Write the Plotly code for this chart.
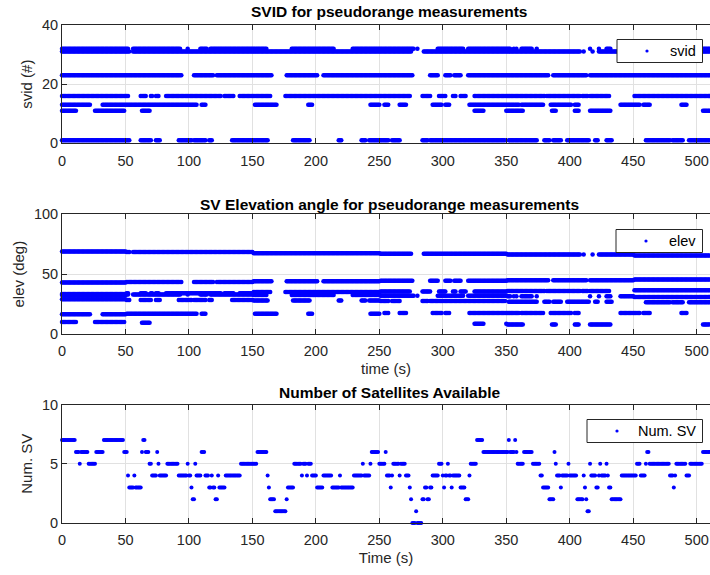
import numpy as np
import plotly.graph_objects as go

# ---------------- data ----------------
sv_ids = [1, 11, 13, 16, 23, 31, 32]

# visibility intervals (start s, end s) for each SV
sv1_intervals = [(0, 53), (62, 70), (74, 77), (92, 102), (104, 113), (116, 118), (134, 162),
                 (182, 195), (218, 220), (236, 239), (242, 257), (260, 266), (284, 288),
                 (290, 349), (352, 374), (380, 384), (387, 393), (398, 415), (420, 422),
                 (429, 433), (460, 479), (481, 489), (494, 510)]
sv11_intervals = [(0, 11), (26, 49), (63, 69), (325, 332), (350, 363), (386, 389),
                  (404, 407), (416, 432), (505, 510)]
sv13_intervals = [(0, 22), (32, 104), (105, 106), (110, 113), (152, 169), (194, 197),
                  (243, 250), (254, 257), (266, 271), (292, 299), (302, 305), (321, 360),
                  (362, 379), (385, 401), (404, 407), (440, 455), (458, 463), (488, 492)]
sv16_intervals = [(0, 52), (62, 66), (70, 71), (74, 76), (82, 125), (128, 135), (140, 164),
                  (176, 274), (284, 290), (297, 302), (308, 310), (314, 318), (325, 380),
                  (382, 408), (410, 414), (416, 431), (451, 510)]
sv23_intervals = [(0, 94), (104, 119), (122, 165), (177, 201), (206, 276), (290, 296),
                  (302, 306), (309, 314), (320, 383), (387, 413), (416, 510)]
sv31_intervals = [(0, 53), (56, 275), (285, 408), (411, 411), (418, 418), (423, 510)]
sv32_intervals = [(0, 52), (56, 93), (99, 99), (109, 114), (117, 122), (123, 161),
                  (181, 214), (229, 277), (280, 280), (296, 316), (320, 353), (356, 356),
                  (358, 358), (362, 370), (374, 374), (416, 416), (423, 423), (429, 432),
                  (440, 510)]

# elevation readings (deg) at these times for each SV
elev_read_times = [0, 100, 200, 300, 400, 500]
sv1_elev = [29, 28.5, 28, 27.5, 27, 26.5]
sv11_elev = [10, 9.5, 9, 8.5, 8, 8]
sv13_elev = [16.5, 17, 17, 17.5, 17.5, 17.5]
sv16_elev = [32.5, 34, 35, 35.5, 36, 36.5]
sv23_elev = [43, 43.5, 44, 44.5, 45, 45.5]
sv31_elev = [69, 68.5, 67.5, 67, 66.5, 65.5]
sv32_elev = [33.5, 33, 32.5, 32, 31.5, 31]

# number of satellites: (start s, end s, count)
numsv_segments = [
    (0, 10, 7), (11, 13, 6), (14, 14, 5), (15, 20, 6), (21, 26, 5), (27, 32, 6), (33, 48, 7),
    (49, 51, 6), (52, 52, 4), (53, 56, 3), (57, 57, 4), (58, 62, 3), (63, 63, 6), (64, 65, 7),
    (66, 68, 6), (69, 70, 5), (71, 74, 4), (75, 75, 6), (76, 76, 5), (77, 82, 4), (83, 91, 5),
    (92, 98, 4), (99, 99, 5), (100, 101, 4), (102, 102, 3), (103, 104, 2), (105, 105, 5),
    (106, 109, 4), (110, 112, 6), (113, 115, 4), (116, 117, 3), (118, 118, 4), (119, 120, 3),
    (121, 122, 2), (123, 123, 4), (124, 128, 3), (129, 140, 4), (141, 153, 5), (154, 161, 6),
    (162, 162, 4), (163, 163, 3), (164, 167, 2), (168, 176, 1), (177, 177, 2), (178, 182, 3),
    (183, 188, 5), (189, 189, 4), (190, 192, 5), (193, 193, 4), (194, 196, 5), (197, 200, 4),
    (201, 205, 3), (206, 212, 4), (213, 218, 3), (219, 219, 4), (220, 229, 3), (230, 236, 4),
    (237, 237, 5), (238, 242, 4), (243, 243, 5), (244, 249, 6), (250, 254, 5), (255, 255, 6),
    (256, 258, 4), (259, 259, 3), (260, 260, 4), (261, 265, 5), (266, 266, 4), (267, 270, 5),
    (271, 273, 4), (274, 274, 3), (275, 275, 2), (276, 278, 0), (279, 279, 1), (280, 283, 0),
    (284, 285, 2), (286, 287, 3), (288, 289, 2), (290, 291, 3), (292, 296, 4), (297, 299, 5),
    (300, 300, 4), (301, 301, 3), (302, 303, 4), (304, 304, 5), (305, 306, 4), (307, 307, 3),
    (308, 313, 4), (314, 317, 3), (318, 320, 2), (321, 321, 4), (322, 326, 5), (327, 331, 7),
    (332, 351, 6), (352, 352, 7), (353, 356, 6), (357, 357, 7), (358, 358, 6), (359, 363, 5),
    (364, 370, 6), (371, 376, 5), (377, 378, 4), (379, 383, 3), (384, 387, 2), (388, 388, 6),
    (389, 389, 5), (390, 392, 4), (393, 393, 3), (394, 398, 4), (399, 399, 5), (400, 405, 4),
    (406, 410, 2), (411, 411, 4), (412, 412, 3), (413, 413, 2), (414, 415, 1), (416, 416, 5),
    (417, 420, 4), (421, 422, 3), (423, 423, 4), (424, 424, 5), (425, 428, 4), (429, 429, 5),
    (430, 430, 4), (431, 432, 3), (433, 440, 2), (441, 452, 4), (453, 455, 5), (456, 459, 4),
    (460, 460, 5), (461, 462, 6), (463, 478, 5), (479, 481, 4), (482, 482, 3), (483, 483, 4),
    (484, 491, 5), (492, 494, 4), (495, 504, 5), (505, 510, 6),
]

x_ticks = [0, 50, 100, 150, 200, 250, 300, 350, 400, 450, 500]
svid_ticks = [0, 20, 40]
elev_ticks = [0, 50, 100]
numsv_ticks = [0, 5, 10]
legend_labels = ["svid", "elev", "Num. SV"]

# ---------------- build point series ----------------
all_intervals = [sv1_intervals, sv11_intervals, sv13_intervals, sv16_intervals,
                 sv23_intervals, sv31_intervals, sv32_intervals]
all_elev = [sv1_elev, sv11_elev, sv13_elev, sv16_elev, sv23_elev, sv31_elev, sv32_elev]

t_sv, id_sv, el_sv = [], [], []
read_t = np.array(elev_read_times)
for sid, ivs, elv in zip(sv_ids, all_intervals, all_elev):
    elv = np.array(elv)
    for a, b in ivs:
        tt = np.arange(a, b + 1)
        idx = np.abs(tt[:, None] - read_t[None, :]).argmin(axis=1)
        t_sv.extend(tt.tolist())
        id_sv.extend([sid] * len(tt))
        el_sv.extend(elv[idx].tolist())

t_n, n_sv = [], []
for a, b, v in numsv_segments:
    tt = np.arange(a, b + 1)
    t_n.extend(tt.tolist())
    n_sv.extend([v] * len(tt))

# ---------------- figure ----------------
BLUE = "#0000ff"
FONT = "Liberation Sans, Arial, Helvetica, sans-serif"
AX = "#262626"
GRID = "#e1e1e1"
TICK_FS = 14.5
LAB_FS = 15
TITLE_FS = 15.5

fig = go.Figure()
mk = dict(color=BLUE, size=4.5)
fig.add_trace(go.Scatter(x=t_sv, y=id_sv, mode="markers", marker=mk, name=legend_labels[0],
                         xaxis="x", yaxis="y", showlegend=False, cliponaxis=False))
fig.add_trace(go.Scatter(x=t_sv, y=el_sv, mode="markers", marker=mk, name=legend_labels[1],
                         xaxis="x2", yaxis="y2", showlegend=False, cliponaxis=False))
fig.add_trace(go.Scatter(x=t_n, y=n_sv, mode="markers", marker=dict(color=BLUE, size=4),
                         name=legend_labels[2], xaxis="x3", yaxis="y3", showlegend=False,
                         cliponaxis=False))

H_TOP, H_BOT = 25, 52
PH = 575 - H_TOP - H_BOT
L_M = 62
PW = 710 - L_M


def py(px):
    return (575 - H_BOT - px) / PH


def pxx(px):
    return (px - L_M) / PW


def xax(anchor, title=None):
    d = dict(range=[0, 510.5], tickvals=x_ticks, showgrid=True, gridcolor=GRID, gridwidth=1,
             showline=True, linecolor=AX, linewidth=1, mirror="ticks", ticks="inside",
             ticklen=5, tickcolor=AX, tickfont=dict(size=TICK_FS, color=AX, family=FONT),
             ticklabelstandoff=4, zeroline=False, anchor=anchor, domain=[0, 1])
    if title:
        d["title"] = dict(text=title, font=dict(size=LAB_FS, color=AX, family=FONT), standoff=5)
    return d


def yax(anchor, rng, ticks, dom, title):
    return dict(range=rng, tickvals=ticks, showgrid=True, gridcolor=GRID, gridwidth=1,
                showline=True, linecolor=AX, linewidth=1, mirror=False, ticks="inside",
                ticklen=5, tickcolor=AX, tickfont=dict(size=TICK_FS, color=AX, family=FONT),
                zeroline=False, anchor=anchor, domain=dom,
                title=dict(text=title, font=dict(size=LAB_FS, color=AX, family=FONT), standoff=5))


fig.update_layout(
    width=710, height=575,
    margin=dict(l=L_M, r=0, t=H_TOP, b=H_BOT),
    paper_bgcolor="white", plot_bgcolor="white",
    font=dict(family=FONT, color=AX),
    xaxis=xax("y"),
    yaxis=yax("x", [0, 40], svid_ticks, [py(143.3), 1], "svid (#)"),
    xaxis2=xax("y2", "time (s)"),
    yaxis2=yax("x2", [0, 100], elev_ticks, [py(334), py(214.3)], "elev (deg)"),
    xaxis3=xax("y3", "Time (s)"),
    yaxis3=yax("x3", [0, 10], numsv_ticks, [py(523), py(404.5)], "Num. SV"),
    showlegend=False,
)

titles = [("SVID for pseudorange measurements", 12),
          ("SV Elevation angle for pseudorange measurements", 204),
          ("Number of Satellites Available", 392)]
for txt, ypx in titles:
    fig.add_annotation(text="<b>" + txt + "</b>", x=pxx(389), y=py(ypx), xref="paper",
                       yref="paper", xanchor="center", yanchor="middle", showarrow=False,
                       font=dict(size=TITLE_FS, color="#000", family=FONT))

# legend boxes drawn in the MATLAB style (box, small dot, right-aligned label)
legend_boxes = [(617, 39.5, 62.5, 647), (616, 229.5, 252.5, 646), (587, 419.5, 442.5, 617)]
for (x0, y0, y1, dotx), lab in zip(legend_boxes, legend_labels):
    fig.add_shape(type="rect", xref="paper", yref="paper", x0=pxx(x0), x1=pxx(702.5),
                  y0=py(y1), y1=py(y0), line=dict(color=AX, width=1), fillcolor="white",
                  layer="above")
    yc = (y0 + y1) / 2
    fig.add_shape(type="circle", xref="paper", yref="paper", x0=pxx(dotx - 1.6),
                  x1=pxx(dotx + 1.6), y0=py(yc + 1.6), y1=py(yc - 1.6),
                  line=dict(color=BLUE, width=0), fillcolor=BLUE, layer="above")
    fig.add_annotation(text=lab, x=pxx(697.5), y=py(yc), xref="paper", yref="paper",
                       xanchor="right", yanchor="middle", showarrow=False,
                       font=dict(size=14.5, color="#000", family=FONT))

fig.write_html("out.html")
